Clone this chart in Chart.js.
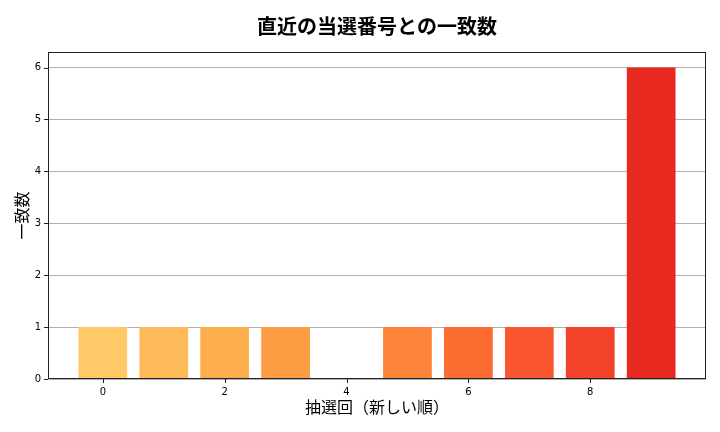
<!DOCTYPE html>
<html><head><meta charset="utf-8">
<script src="https://cdn.jsdelivr.net/npm/chart.js@4/dist/chart.umd.min.js"></script>
<style>html,body{margin:0;padding:0;background:#fff}#c{width:720px;height:432px}</style>
</head><body>
<div id="c"><canvas id="cv" width="720" height="432"></canvas></div>
<script>
const draws = [0,1,2,3,4,5,6,7,8,9];
const matches = [1,1,1,1,0,1,1,1,1,6];
const barColors = ['#fec966','#feba58','#fdad4b','#fd9e44','#fd8f3d','#fc843a','#fc6c31','#fa5630','#f3422a','#e8291f'];
const xTicks = [0,2,4,6,8];
const yTicks = [0,1,2,3,4,5,6];
const titleText = '直近の当選番号との一致数';
const xTitle = '抽選回（新しい順）';
const yTitle = '一致数';

const cjk = '"Noto Sans CJK JP", "Noto Sans", sans-serif';
const framePlugin = {
  id:'frame',
  afterDraw(chart){
    const {ctx, chartArea:a, scales} = chart;
    ctx.save();
    ctx.strokeStyle = '#222';
    ctx.lineWidth = 1;
    ctx.strokeRect(a.left+0.5, a.top+0.5, a.right-a.left-1, a.bottom-a.top-1);
    ctx.beginPath();
    xTicks.forEach(v=>{const x=Math.round(scales.x.getPixelForValue(v))+0.5; ctx.moveTo(x,a.bottom); ctx.lineTo(x,a.bottom+4);});
    yTicks.forEach(v=>{const y=Math.round(scales.y.getPixelForValue(v))+0.5; ctx.moveTo(a.left,y); ctx.lineTo(a.left-4,y);});
    ctx.stroke();
    ctx.restore();
  }
};
new Chart(document.getElementById('cv'), {
  type:'bar',
  data:{datasets:[{
    data: draws.map((d,i)=>({x:d, y:matches[i]})),
    backgroundColor: barColors,
    borderWidth:0,
    barPercentage:0.8,
    categoryPercentage:1.0
  }]},
  options:{
    responsive:false, animation:false,
    devicePixelRatio:1,
    layout:{padding:{left:0,right:14,top:4.4,bottom:0}},
    plugins:{
      legend:{display:false},
      tooltip:{enabled:false},
      title:{display:true, fullSize:false, text:titleText, color:'#000',
        font:{family:cjk, size:20, weight:'bold', lineHeight:1.2},
        padding:{top:10,bottom:13.6}}
    },
    scales:{
      x:{type:'linear', min:-0.9, max:9.9, offset:false,
        afterBuildTicks(s){ s.ticks = xTicks.map(v=>({value:v})); },
        afterFit(s){ s.height = 53; },
        grid:{display:false, drawTicks:false},
        border:{display:false},
        ticks:{color:'#000', font:{family:'DejaVu Sans', size:10}, padding:7, maxRotation:0, autoSkip:false},
        title:{display:true, text:xTitle, color:'#000', font:{family:cjk, size:16, lineHeight:1.2}, padding:{top:0,bottom:15}}
      },
      y:{min:0, max:6.3,
        afterBuildTicks(s){ s.ticks = yTicks.map(v=>({value:v})); },
        afterFit(s){ s.width = 48; },
        grid:{color:'#b0b0b0', lineWidth:1, drawTicks:false},
        border:{display:false},
        ticks:{color:'#000', font:{family:'DejaVu Sans', size:10}, padding:7},
        title:{display:true, text:yTitle, color:'#000', font:{family:cjk, size:16, lineHeight:1.2}, padding:{top:12,bottom:0}}
      }
    }
  },
  plugins:[framePlugin]
});
</script>
</body></html>
